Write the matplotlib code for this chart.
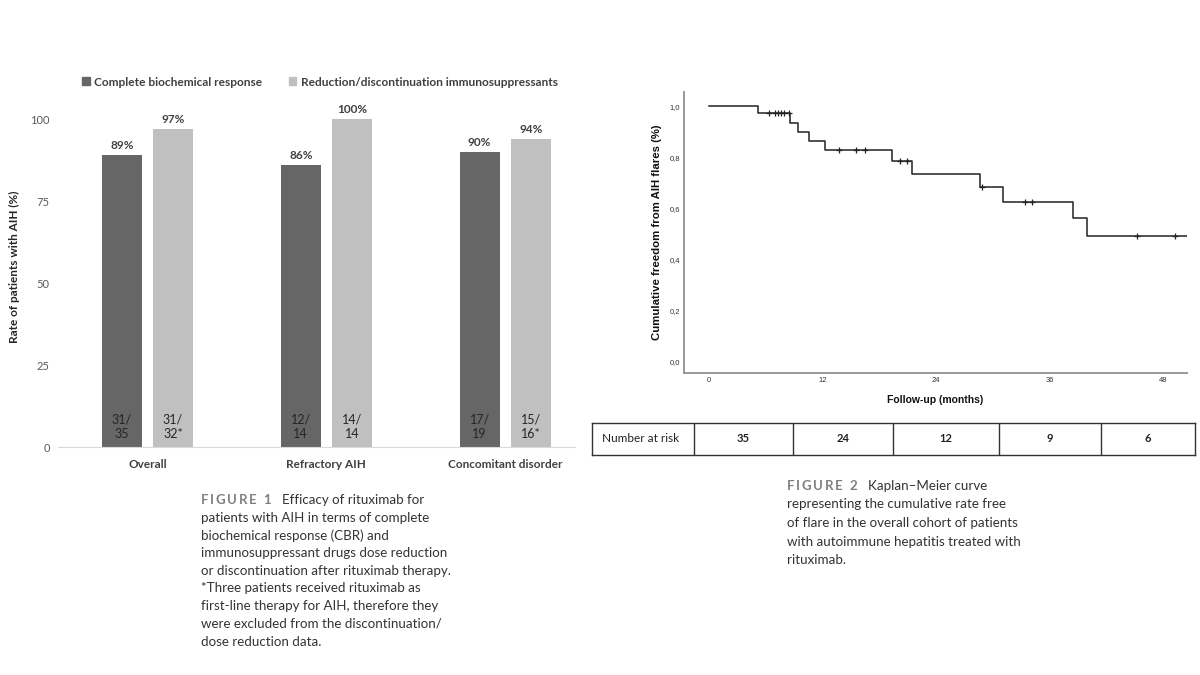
import matplotlib
matplotlib.use("Agg")
import matplotlib.pyplot as plt
import numpy as np
from matplotlib.patches import Patch
from matplotlib.ticker import FuncFormatter

# ---- Figure 1 data ----
groups = ["Overall", "Refractory AIH", "Concomitant disorder"]
series_names = ["Complete biochemical response",
                "Reduction/discontinuation immunosuppressants"]
cbr_pct = [89, 86, 90]
reduction_pct = [97, 100, 94]
cbr_frac = ["31/\n35", "12/\n14", "17/\n19"]
reduction_frac = ["31/\n32*", "14/\n14", "15/\n16*"]

# ---- Figure 2 data (Kaplan-Meier) ----
step_times = [0, 5.2, 8.6, 9.4, 10.6, 12.3, 19.4, 21.5, 28.7, 31.1, 38.5, 40.0]
step_surv = [1.0, 0.971, 0.935, 0.899, 0.865, 0.828, 0.785, 0.733, 0.683,
             0.626, 0.561, 0.493]
end_time = 50.5
censor_times = [6.3, 7.0, 7.3, 7.6, 7.9, 8.5, 13.7, 15.5, 16.5, 20.2, 20.9,
                28.9, 33.4, 34.2, 45.3, 49.3]
risk_label = "Number at risk"
at_risk = [35, 24, 12, 9, 6]

caption1 = [
    "Efficacy of rituximab for",
    "patients with AIH in terms of complete",
    "biochemical response (CBR) and",
    "immunosuppressant drugs dose reduction",
    "or discontinuation after rituximab therapy.",
    "*Three patients received rituximab as",
    "first-line therapy for AIH, therefore they",
    "were excluded from the discontinuation/",
    "dose reduction data.",
]
caption2 = [
    "Kaplan\u2013Meier curve",
    "representing the cumulative rate free",
    "of flare in the overall cohort of patients",
    "with autoimmune hepatitis treated with",
    "rituximab.",
]

W, H = 1200, 675
fig = plt.figure(figsize=(12, 6.75), dpi=100)
fig.patch.set_facecolor("white")


def box(l, t, r, b):
    return [l / W, 1 - b / H, (r - l) / W, (b - t) / H]


def fx(x):
    return x / W


def fy(y):
    return 1 - y / H


# ---------------- bar chart ----------------
bar_font = "Lato"
ax1 = fig.add_axes(box(58, 119, 575, 447))
x = np.arange(len(groups))
bw = 0.223
off = 0.143
b1 = ax1.bar(x - off, cbr_pct, bw, color="#666666")
b2 = ax1.bar(x + off, reduction_pct, bw, color="#c0c0c0")
ax1.set_ylim(0, 100)
ax1.set_xlim(-0.5, 2.39)
ax1.set_yticks([0, 25, 50, 75, 100])
ax1.set_xticks(x)
ax1.set_xticklabels(groups, fontfamily=bar_font, fontweight="bold",
                    fontsize=8.5, color="#404040")
ax1.tick_params(axis="x", length=0, pad=9)
ax1.tick_params(axis="y", length=0, pad=6, labelsize=8, labelcolor="#595959")
for lab in ax1.get_yticklabels():
    lab.set_fontfamily(bar_font)
for s in ["left", "top", "right"]:
    ax1.spines[s].set_visible(False)
ax1.spines["bottom"].set_color("#d9d9d9")
ax1.set_ylabel("Rate of patients with AIH (%)", fontfamily=bar_font,
               fontweight="bold", fontsize=8.5, color="#262626")
ax1.yaxis.set_label_coords(-0.074, 0.55)

for bars, vals, fracs in [(b1, cbr_pct, cbr_frac), (b2, reduction_pct, reduction_frac)]:
    for rect, v, fr in zip(bars, vals, fracs):
        cx = rect.get_x() + rect.get_width() / 2
        ax1.annotate(f"{v}%", (cx, v), xytext=(0, 3), textcoords="offset points",
                     ha="center", va="bottom", fontfamily=bar_font,
                     fontweight="bold", fontsize=8.5, color="#404040",
                     annotation_clip=False)
        ax1.text(cx, 6.1, fr, ha="center", va="center", fontfamily=bar_font,
                 fontsize=9, color="#262626", linespacing=1.2)

handles = [Patch(color="#666666"), Patch(color="#c0c0c0")]
fig.legend(handles, series_names, loc="center", bbox_to_anchor=(fx(320), fy(82)),
           ncol=2, frameon=False, handlelength=0.6, handleheight=0.6,
           handletextpad=0.4, columnspacing=2.2,
           prop={"family": bar_font, "weight": "bold", "size": 8.6})
for t in fig.legends[0].get_texts():
    t.set_color("#404040")

# ---------------- Kaplan-Meier ----------------
km_font = "Liberation Sans"
ax2 = fig.add_axes(box(684, 92, 1187, 373))
ax2.step(step_times + [end_time], step_surv + [step_surv[-1]], where="post",
         color="#222222", lw=1.1)
idx = np.searchsorted(step_times, censor_times, side="right") - 1
censor_surv = [step_surv[i] for i in idx]
ax2.plot(censor_times, censor_surv, "+", color="#222222", ms=4.5, mew=0.9)
ax2.set_xlim(-2.64, 50.54)
ax2.set_ylim(-0.043, 1.055)
ax2.set_xticks([0, 12, 24, 36, 48])
ax2.set_yticks([0.0, 0.2, 0.4, 0.6, 0.8, 1.0])
ax2.yaxis.set_major_formatter(FuncFormatter(lambda v, p: f"{v:.1f}".replace(".", ",")))
ax2.tick_params(length=0, labelsize=5.5, labelcolor="#333333", pad=3)
for lab in ax2.get_xticklabels() + ax2.get_yticklabels():
    lab.set_fontfamily(km_font)
for s in ["top", "right"]:
    ax2.spines[s].set_visible(False)
for s in ["left", "bottom"]:
    ax2.spines[s].set_color("#999999")
    ax2.spines[s].set_linewidth(1.4)
ax2.set_xlabel("Follow-up (months)", fontfamily=km_font, fontweight="bold",
               fontsize=7.5, color="#111111", labelpad=8)
ax2.set_ylabel("Cumulative freedom from AIH flares (%)", fontfamily=km_font,
               fontweight="bold", fontsize=8.2, color="#111111", labelpad=5)

# number at risk table
ax3 = fig.add_axes(box(592, 423, 1195, 455))
ax3.set_xlim(592, 1195)
ax3.set_ylim(0, 1)
ax3.set_xticks([])
ax3.set_yticks([])
for s in ax3.spines.values():
    s.set_color("#333333")
    s.set_linewidth(1.0)
cells = [592, 694, 793, 893, 999, 1101, 1195]
for c in cells[1:-1]:
    ax3.axvline(c, color="#333333", lw=1.0)
ax3.text(602, 0.5, risk_label, ha="left", va="center", fontfamily="Lato",
         fontsize=8.5, color="#222222")
for i, n in enumerate(at_risk):
    ax3.text((cells[i + 1] + cells[i + 2]) / 2, 0.5, str(n), ha="center",
             va="center", fontfamily="Lato", fontweight="bold", fontsize=8,
             color="#222222")

# ---------------- captions ----------------
renderer = fig.canvas.get_renderer()


def spaced(x, y, s, gap, **kw):
    for ch in s:
        if ch == " ":
            x += 5
            continue
        t = fig.text(fx(x), fy(y), ch, va="center", ha="left", **kw)
        x += t.get_window_extent(renderer).width + gap
    return x


cap_kw = dict(fontfamily="Lato", fontsize=9.6, color="#333333")
lab_kw = dict(fontfamily="Lato", fontsize=9.5, fontweight="bold", color="#7f7f7f")

x0, y0 = 201, 500
xe = spaced(x0, y0, "FIGURE 1", 1.7, **lab_kw)
for i, line in enumerate(caption1):
    xx = xe + 9 if i == 0 else x0
    fig.text(fx(xx), fy(y0 + i * 17.7), line, va="center", ha="left", **cap_kw)

x0, y0 = 787, 486
xe = spaced(x0, y0, "FIGURE 2", 1.7, **lab_kw)
for i, line in enumerate(caption2):
    xx = xe + 9 if i == 0 else x0
    fig.text(fx(xx), fy(y0 + i * 18.5), line, va="center", ha="left", **cap_kw)

fig.savefig("out.png", dpi=100, facecolor="white")
